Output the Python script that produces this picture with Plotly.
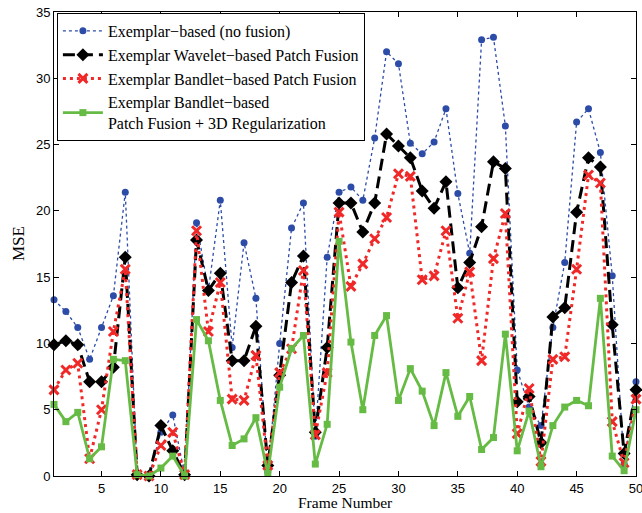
import plotly.graph_objects as go

frames = list(range(1, 51))

exemplar_no_fusion = [13.3, 12.4, 11.2, 8.8, 11.2, 13.6, 21.4, 0.1, 0.0, 3.3,
                      4.6, 0.1, 19.1, 14.0, 20.8, 9.7, 17.6, 13.4, 0.3, 10.0,
                      18.7, 20.6, 3.0, 16.5, 21.4, 21.8, 20.8, 25.5, 32.0, 31.1,
                      25.1, 24.3, 25.2, 27.7, 21.3, 16.8, 32.9, 33.1, 26.4, 8.0,
                      5.2, 3.8, 11.2, 16.1, 26.7, 27.7, 24.4, 15.1, 0.9, 7.1]

wavelet_fusion = [9.9, 10.2, 9.9, 7.1, 7.1, 8.2, 16.5, 0.1, 0.0, 3.8,
                  1.9, 0.1, 17.8, 14.0, 15.3, 8.7, 8.7, 11.3, 0.8, 7.6,
                  14.6, 16.6, 3.3, 9.7, 20.6, 20.6, 18.4, 20.6, 25.8, 24.9,
                  24.0, 21.5, 20.2, 22.2, 14.2, 16.1, 18.8, 23.7, 23.2, 5.6,
                  6.0, 2.5, 12.0, 12.7, 19.9, 24.0, 23.3, 11.4, 1.7, 6.5]

bandlet_fusion = [6.5, 8.0, 8.5, 1.3, 5.0, 10.9, 15.6, 0.1, 0.0, 2.3,
                  3.3, 0.1, 18.5, 10.9, 14.6, 5.8, 5.7, 9.1, 0.8, 7.8,
                  9.6, 15.5, 3.1, 7.8, 19.9, 14.3, 16.0, 17.9, 19.5, 22.8,
                  22.6, 14.8, 15.1, 18.5, 11.9, 15.4, 8.7, 16.4, 19.8, 3.2,
                  6.6, 1.1, 8.8, 9.0, 15.6, 22.7, 22.1, 4.1, 1.0, 5.8]

bandlet_3d_reg = [5.4, 4.1, 4.8, 1.3, 2.2, 8.8, 8.7, 0.1, 0.0, 0.6,
                  1.5, 0.0, 11.8, 10.2, 5.7, 2.3, 2.8, 4.4, 0.2, 6.7,
                  9.6, 10.6, 0.9, 3.9, 17.7, 10.1, 5.0, 10.6, 12.1, 5.7,
                  8.1, 6.4, 3.8, 7.8, 4.5, 6.0, 2.0, 2.9, 10.7, 1.9,
                  4.9, 0.7, 3.8, 5.2, 5.7, 5.3, 13.4, 1.5, 0.4, 5.0]

names = ["Exemplar\u2212based (no fusion)",
         "Exemplar Wavelet\u2212based Patch Fusion",
         "Exemplar Bandlet\u2212based Patch Fusion",
         "Exemplar Bandlet\u2212based<br>Patch Fusion + 3D Regularization"]

x_title = "Frame Number"
y_title = "MSE"

x_ticks = [5, 10, 15, 20, 25, 30, 35, 40, 45, 50]
y_ticks = [0, 5, 10, 15, 20, 25, 30, 35]

fig = go.Figure()
fig.add_trace(go.Scatter(x=frames, y=exemplar_no_fusion, name=names[0], mode="lines+markers",
                         line=dict(color="#2c4ca8", width=1.3, dash="dot"),
                         marker=dict(symbol="circle", size=7, color="#2c4ca8"), cliponaxis=False))
fig.add_trace(go.Scatter(x=frames, y=wavelet_fusion, name=names[1], mode="lines+markers",
                         line=dict(color="black", width=3, dash="12px,6px"),
                         marker=dict(symbol="diamond", size=10, color="black"), cliponaxis=False))
fig.add_trace(go.Scatter(x=frames, y=bandlet_fusion, name=names[2], mode="lines+markers",
                         line=dict(color="#f02828", width=3, dash="3px,4px"),
                         marker=dict(symbol="x-thin", size=9, color="#f02828",
                                     line=dict(color="#f02828", width=3)), cliponaxis=False))
fig.add_trace(go.Scatter(x=frames, y=bandlet_3d_reg, name=names[3], mode="lines+markers",
                         line=dict(color="#66bb44", width=2.8),
                         marker=dict(symbol="square", size=7, color="#66bb44"), cliponaxis=False))

axis_common = dict(showline=True, linecolor="black", linewidth=1, mirror="ticks",
                   ticks="inside", ticklen=5, tickcolor="black", showgrid=False,
                   zeroline=False, ticklabeloverflow="allow", automargin=False,
                   tickfont=dict(family="Liberation Sans", size=13, color="black"))

fig.update_layout(
    width=642, height=513,
    margin=dict(l=54, r=6, t=12, b=37, autoexpand=False),
    paper_bgcolor="white", plot_bgcolor="white",
    showlegend=True,
    legend=dict(x=0.005, y=0.998, xanchor="left", yanchor="top",
                bgcolor="white", bordercolor="black", borderwidth=1,
                font=dict(family="Liberation Serif", size=16, color="black"),
                tracegroupgap=0, itemwidth=40),
    xaxis=dict(range=[1, 50], tickvals=x_ticks, ticktext=[str(v) for v in x_ticks],
               **axis_common),
    yaxis=dict(range=[0, 35], tickvals=y_ticks, ticktext=[str(v) for v in y_ticks],
               **axis_common),
    annotations=[
        dict(text=x_title, xref="paper", yref="paper", x=0.5, y=0, xanchor="center",
             yanchor="top", yshift=-17, showarrow=False, borderpad=0,
             font=dict(family="Liberation Serif", size=15.5, color="black")),
        dict(text=y_title, xref="paper", yref="paper", x=0, y=0.5, xanchor="center",
             yanchor="middle", xshift=-36, textangle=-90, showarrow=False,
             font=dict(family="Liberation Serif", size=17, color="black")),
    ],
)

fig.write_html("out.html", config={"displayModeBar": False},
               post_script="document.body.style.margin='0';document.body.style.overflow='hidden';")
